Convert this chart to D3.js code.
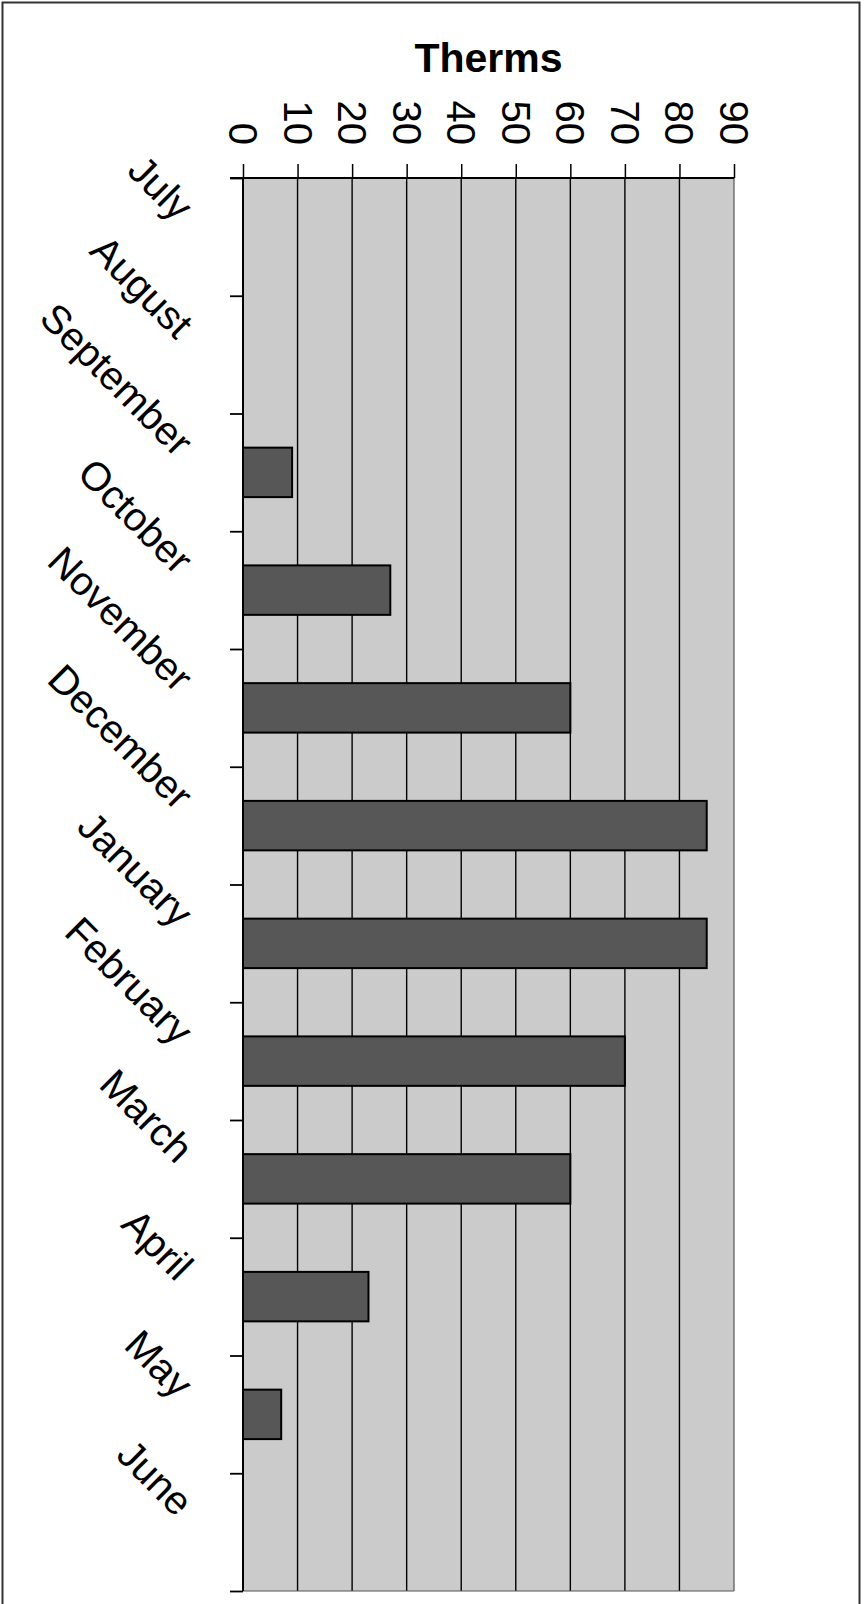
<!DOCTYPE html>
<html>
<head>
<meta charset="utf-8">
<script src="https://cdn.jsdelivr.net/npm/d3@7"></script>
<style>
  html, body { margin: 0; padding: 0; background: #ffffff; }
  svg { display: block; }
  text { font-family: "Liberation Sans", Arial, Helvetica, sans-serif; fill: #000; }
</style>
</head>
<body>
<svg id="chart" width="864" height="1604"></svg>
<script>
// Monthly gas usage, in therms
const months = ["July", "August", "September", "October", "November", "December",
                "January", "February", "March", "April", "May", "June"];
const therms = [0, 0, 9, 27, 60, 85, 85, 70, 60, 23, 7, 0];
const xTickValues = [0, 10, 20, 30, 40, 50, 60, 70, 80, 90];
const titleText = "Therms";

const plot = { left: 243, right: 734, top: 178, bottom: 1591 };

const svg = d3.select("#chart");

// outer frame
svg.append("rect")
  .attr("x", 2.5).attr("y", 2.5)
  .attr("width", 857).attr("height", 1640)
  .attr("fill", "none").attr("stroke", "#333").attr("stroke-width", 2);

const x = d3.scaleLinear().domain([0, 90]).range([plot.left, plot.right]);

// cells for the category axis and narrower bands for the bars
const cell = d3.scaleBand().domain(months).range([plot.top, plot.bottom]).padding(0);
const band = d3.scaleBand().domain(months).range([plot.top, plot.bottom])
  .paddingInner(0.58).paddingOuter(0.29);
const yIdx = d3.scaleLinear().domain([0, months.length]).range([plot.top, plot.bottom]);

// plot background
svg.append("rect")
  .attr("x", plot.left).attr("y", plot.top)
  .attr("width", plot.right - plot.left).attr("height", plot.bottom - plot.top)
  .attr("fill", "#cbcbcb");

// vertical gridlines
svg.append("g").selectAll("line")
  .data(xTickValues.filter(v => v > 0 && v < 90))
  .join("line")
  .attr("x1", d => x(d)).attr("x2", d => x(d))
  .attr("y1", plot.top).attr("y2", plot.bottom)
  .attr("stroke", "#000").attr("stroke-width", 1.4);

// right and bottom edges of the plot
svg.append("line")
  .attr("x1", plot.right).attr("x2", plot.right)
  .attr("y1", plot.top).attr("y2", plot.bottom)
  .attr("stroke", "#555").attr("stroke-width", 1.2);
svg.append("line")
  .attr("x1", plot.left).attr("x2", plot.right)
  .attr("y1", plot.bottom).attr("y2", plot.bottom)
  .attr("stroke", "#555").attr("stroke-width", 1.2);

// bars
svg.append("g").selectAll("rect")
  .data(months.map((m, i) => ({ m, v: therms[i] })).filter(d => d.v > 0))
  .join("rect")
  .attr("x", x(0))
  .attr("y", d => band(d.m))
  .attr("width", d => x(d.v) - x(0))
  .attr("height", band.bandwidth())
  .attr("fill", "#575757")
  .attr("stroke", "#000")
  .attr("stroke-width", 2);

// value axis along the top
const xAxis = svg.append("g")
  .attr("transform", `translate(0,${plot.top})`)
  .call(d3.axisTop(x).tickValues(xTickValues).tickSize(14).tickFormat(""));
xAxis.select(".domain").attr("stroke", "#000").attr("stroke-width", 1.8)
  .attr("d", `M${plot.left - 13},0H${plot.right}`);
xAxis.selectAll(".tick line").attr("stroke", "#000").attr("stroke-width", 1.5);

svg.append("g").selectAll("text")
  .data(xTickValues)
  .join("text")
  .attr("transform", d => `translate(${x(d)},145) rotate(90)`)
  .attr("text-anchor", "end")
  .attr("dy", "0.35em")
  .style("font-size", "40px")
  .text(d => d);

// category axis on the left, ticks between months
const yAxis = svg.append("g")
  .attr("transform", `translate(${plot.left},0)`)
  .call(d3.axisLeft(yIdx).tickValues(d3.range(0, months.length + 1)).tickSize(13).tickFormat(""));
yAxis.select(".domain").attr("stroke", "#000").attr("stroke-width", 2)
  .attr("d", `M0,${plot.top}V${plot.bottom}`);
yAxis.selectAll(".tick line").attr("stroke", "#000").attr("stroke-width", 1.8);

svg.append("g").selectAll("text")
  .data(months)
  .join("text")
  .attr("transform", d => `translate(${plot.left - 67},${cell(d) + cell.bandwidth() / 2 - 14}) rotate(45)`)
  .attr("text-anchor", "end")
  .style("font-size", "40px")
  .text(d => d);

// title
svg.append("text")
  .attr("x", (plot.left + plot.right) / 2)
  .attr("y", 72)
  .attr("text-anchor", "middle")
  .style("font-size", "41px")
  .style("font-weight", "bold")
  .text(titleText);
</script>
</body>
</html>
